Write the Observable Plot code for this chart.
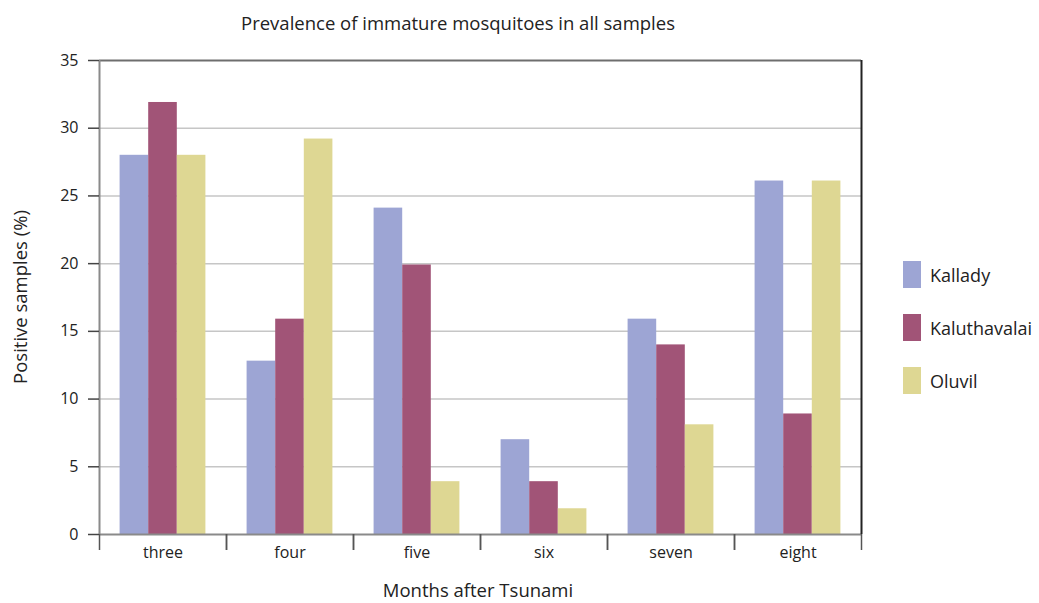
<!DOCTYPE html>
<html>
<head>
<meta charset="utf-8">
<script src="https://cdn.jsdelivr.net/npm/d3@7"></script>
<script src="https://cdn.jsdelivr.net/npm/@observablehq/plot@0.6"></script>
<style>
  body { margin: 0; background: #fff; }
  #wrap { position: relative; width: 1039px; height: 603px; font-family: "Open Sans", sans-serif; color: #222; }
  #wrap svg { position: absolute; left: 0; top: 0; }
  .abs { position: absolute; white-space: nowrap; line-height: 1; }
  #title { left: 458px; top: 23px; transform: translate(-50%, -50%); font-size: 18.5px; }
  #xlabel { left: 478px; top: 590px; transform: translate(-50%, -50%); font-size: 18.5px; }
  #ylabel { left: 20px; top: 297px; transform: translate(-50%, -50%) rotate(-90deg); font-size: 18.5px; }
  .leg { position: absolute; left: 903px; display: flex; align-items: center; font-size: 18px; }
  .leg .sw { width: 18px; height: 27px; margin-right: 9px; }
</style>
</head>
<body>
<div id="wrap">
  <div id="title" class="abs">Prevalence of immature mosquitoes in all samples</div>
  <div id="xlabel" class="abs">Months after Tsunami</div>
  <div id="ylabel" class="abs">Positive samples (%)</div>
</div>
<script>
const months = ["three", "four", "five", "six", "seven", "eight"];
const sites = ["Kallady", "Kaluthavalai", "Oluvil"];
const kallady = [28, 12.8, 24.1, 7, 15.9, 26.1];
const kaluthavalai = [31.9, 15.9, 19.9, 3.9, 14, 8.9];
const oluvil = [28, 29.2, 3.9, 1.9, 8.1, 26.1];
const colors = ["#9da5d4", "#a15477", "#ded793"];
const yTicks = [0, 5, 10, 15, 20, 25, 30, 35];

const series = [kallady, kaluthavalai, oluvil];
const data = [];
months.forEach((m, i) => {
  sites.forEach((s, j) => {
    data.push({month: m, site: s, idx: j, value: series[j][i]});
  });
});

const xmin = -0.72, xmax = 3.72;

const chart = Plot.plot({
  width: 1039,
  height: 603,
  marginLeft: 97,
  marginRight: 177,
  marginTop: 60,
  marginBottom: 69,
  style: {fontFamily: "Open Sans, sans-serif", fontSize: "16px", color: "#222", background: "transparent"},
  fx: {domain: months, padding: 0},
  x: {domain: [xmin, xmax]},
  y: {domain: [0, 35]},
  color: {domain: sites, range: colors},
  marks: [
    Plot.gridY({ticks: yTicks.slice(1, -1), stroke: "#c6c6c6", strokeOpacity: 1, strokeWidth: 1.5}),
    Plot.rect(data, {x1: "idx", x2: d => d.idx + 1, y1: () => 0, y2: "value", fx: "month", fill: "site"}),
    Plot.ruleY([35], {stroke: "#6e6e6e", strokeWidth: 2}),
    Plot.ruleY([0], {stroke: "#8a8a8a", strokeWidth: 2}),
    Plot.ruleX([months[0]], {x: () => xmin, fx: d => d, stroke: "#8a8a8a", strokeWidth: 2}),
    Plot.ruleX([months[months.length - 1]], {x: () => xmax, fx: d => d, stroke: "#222", strokeWidth: 2}),
    Plot.axisX({ticks: [xmin, xmax], tickSize: 16, tickFormat: () => "", stroke: "#555", strokeWidth: 1.5, label: null}),
    Plot.axisY({ticks: yTicks, tickSize: 11, tickPadding: 10, stroke: "#444", strokeWidth: 1.5, label: null, fontSize: 16}),
    Plot.axisFx({anchor: "bottom", tickSize: 0, tickPadding: 12, label: null, fontSize: 16})
  ]
});

const wrap = document.getElementById("wrap");
wrap.insertBefore(chart, wrap.firstChild);

const legTops = [261, 314, 367];
sites.forEach((s, j) => {
  const row = document.createElement("div");
  row.className = "leg";
  row.style.top = legTops[j] + "px";
  const sw = document.createElement("div");
  sw.className = "sw";
  sw.style.background = colors[j];
  const label = document.createElement("span");
  label.textContent = s;
  row.appendChild(sw);
  row.appendChild(label);
  wrap.appendChild(row);
});
</script>
</body>
</html>
